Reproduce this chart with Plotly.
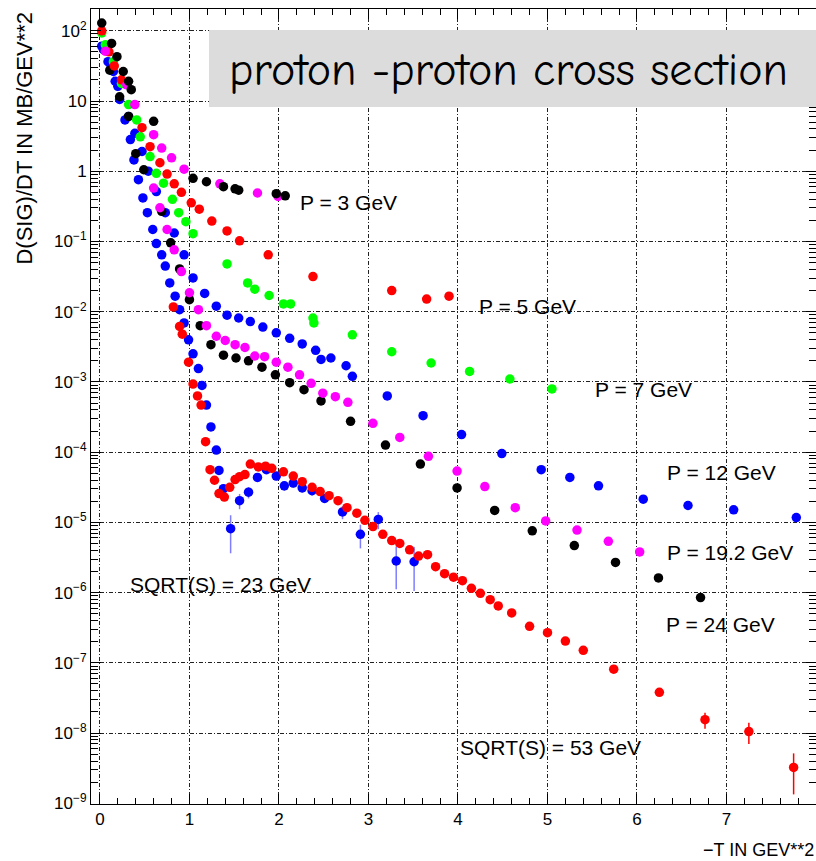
import plotly.graph_objects as go

# ---------------- data ----------------
# P = 3 GeV (black, upper)
t_p3 = [0.02, 0.13, 0.19, 0.26, 0.32, 0.35, 0.60, 1.04, 1.19, 1.38, 1.51, 1.55, 1.97, 2.07]
y_p3 = [129, 66, 42.7, 26.3, 19.1, 14.5, 5.13, 0.794, 0.708, 0.603, 0.562, 0.537, 0.479, 0.447]

# magenta, upper group (low momentum)
t_m_hi = [0.06, 0.30, 0.39, 0.60, 0.69, 0.80, 0.94, 1.34, 1.76, 1.99]
y_m_hi = [51.3, 17.0, 8.91, 3.31, 2.14, 1.55, 1.07, 0.661, 0.490, 0.437]

# P = 5 GeV (red)
t_p5 = [0.02, 0.10, 0.16, 0.24, 0.47, 0.56, 0.67, 0.75, 0.83, 0.91, 1.02, 1.11, 1.25, 1.42,
        1.56, 1.88, 2.38, 3.26, 3.65, 3.90]
y_p5 = [100, 50.1, 31.6, 20.0, 4.17, 2.24, 1.32, 0.912, 0.661, 0.501, 0.355, 0.288, 0.195, 0.141,
        0.102, 0.0646, 0.0316, 0.0200, 0.0151, 0.0166]

# P = 7 GeV (green)
t_p7 = [0.02, 0.06, 0.15, 0.24, 0.32, 0.41, 0.45, 0.56, 0.63, 0.71, 0.81, 0.88, 0.96, 1.04, 1.42,
        1.65, 1.73, 1.89, 2.05, 2.13, 2.38, 2.39, 2.82, 3.26, 3.70, 4.13, 4.58, 5.05]
y_p7 = [93.3, 63.1, 36.3, 17.8, 8.91, 5.37, 3.09, 1.62, 0.933, 0.676, 0.398, 0.257, 0.191, 0.129, 0.0479,
        0.0257, 0.0209, 0.0170, 0.0129, 0.0129, 8.13e-3, 6.92e-3, 4.68e-3, 2.69e-3, 1.86e-3, 1.41e-3,
        1.10e-3, 7.94e-4]

# P = 12 GeV (blue)
t_p12 = [0.04, 0.11, 0.15, 0.20, 0.32, 0.39, 0.47, 0.54, 0.63, 0.73, 0.83, 0.94, 1.04, 1.17, 1.30,
         1.42, 1.55, 1.68, 1.82, 1.97, 2.12, 2.26, 2.41, 2.47, 2.58, 2.75, 2.82, 3.21, 3.61, 4.04,
         4.49, 4.93, 5.25, 5.57, 6.07, 6.57, 7.08, 7.78]
y_p12 = [53.7, 34.7, 26.3, 16.2, 6.03, 3.47, 1.91, 1.00, 0.513, 0.257, 0.132, 0.0646, 0.0302, 0.0182,
         0.0120, 8.91e-3, 8.13e-3, 7.24e-3, 6.03e-3, 5.01e-3, 4.17e-3, 3.47e-3, 2.82e-3, 2.09e-3,
         2.19e-3, 1.70e-3, 1.20e-3, 6.31e-4, 3.31e-4, 1.78e-4, 9.55e-5, 5.62e-5, 4.37e-5, 3.31e-5,
         2.14e-5, 1.74e-5, 1.51e-5, 1.17e-5]

# P = 19.2 GeV (magenta)
t_p19 = [0.60, 0.67, 0.75, 0.83, 0.91, 1.00, 1.10, 1.19, 1.30, 1.40, 1.51, 1.62, 1.73, 1.84, 1.97,
         2.10, 2.23, 2.36, 2.49, 2.63, 2.77, 3.05, 3.35, 3.67, 3.99, 4.30, 4.64, 4.98, 5.33, 5.68, 6.03]
y_p19 = [0.575, 0.302, 0.148, 0.0759, 0.0372, 0.0186, 0.0107, 6.31e-3, 4.47e-3, 3.89e-3, 3.39e-3,
         3.09e-3, 2.34e-3, 2.29e-3, 1.91e-3, 1.62e-3, 1.26e-3, 9.55e-4, 6.92e-4, 6.17e-4, 5.13e-4,
         2.57e-4, 1.62e-4, 8.71e-5, 5.37e-5, 3.24e-5, 1.62e-5, 1.05e-5, 7.76e-6, 5.37e-6, 3.80e-6]

# P = 24 GeV (black, lower)
t_p24 = [0.11, 0.22, 0.32, 0.40, 0.49, 0.69, 0.79, 0.89, 1.00, 1.12, 1.24, 1.38, 1.52, 1.66, 1.81,
         1.96, 2.12, 2.28, 2.47, 2.80, 3.19, 3.58, 3.99, 4.41, 4.83, 5.30, 5.76, 6.24, 6.71]
y_p24 = [27.5, 11.5, 6.03, 1.78, 1.05, 0.269, 0.0955, 0.0407, 0.0148, 6.31e-3, 3.39e-3, 2.40e-3,
         2.19e-3, 2.00e-3, 1.62e-3, 1.26e-3, 9.77e-4, 7.76e-4, 5.37e-4, 2.75e-4, 1.26e-4, 6.76e-5,
         3.09e-5, 1.48e-5, 7.59e-6, 4.68e-6, 2.69e-6, 1.62e-6, 8.51e-7]

# SQRT(S) = 23 GeV (blue, ISR)
t_s23 = [0.02, 0.09, 0.17, 0.22, 0.28, 0.34, 0.38, 0.43, 0.48, 0.53, 0.59, 0.63, 0.69, 0.73, 0.78,
         0.84, 0.89, 0.94, 0.99, 1.04, 1.10, 1.14, 1.19, 1.24, 1.30, 1.33, 1.38, 1.46, 1.56, 1.66,
         1.76, 1.86, 1.97, 2.06, 2.16, 2.26, 2.37, 2.51, 2.71, 2.91, 3.11, 3.31, 3.51]
y_s23 = [60.3, 36.3, 19.1, 10.5, 5.37, 2.82, 1.45, 0.759, 0.417, 0.257, 0.148, 0.0933, 0.0646,
         0.0447, 0.0257, 0.0166, 0.0107, 6.92e-3, 3.98e-3, 2.51e-3, 1.55e-3, 8.91e-4, 4.68e-4,
         2.29e-4, 1.07e-4, 5.50e-5, 3.02e-5, 8.13e-6, 2.04e-5, 2.69e-5, 4.37e-5, 5.62e-5, 4.57e-5,
         3.31e-5, 3.63e-5, 3.09e-5, 2.82e-5, 2.19e-5, 1.41e-5, 6.76e-6, 1.10e-5, 2.82e-6, 2.75e-6]
e_s23 = [0, 0, 0, 0, 0, 0, 0, 0, 0, 0, 0, 0, 0, 0, 0,
         0, 0, 0, 0, 0, 0, 0, 0, 0, 0, 6e-6, 5e-6, 4.5e-6, 5e-6, 5e-6,
         4e-6, 3e-6, 6e-6, 5e-6, 5e-6, 4e-6, 4e-6, 3e-6, 3e-6, 2.5e-6, 3e-6, 1.7e-6, 1.7e-6]

# SQRT(S) = 53 GeV (red, ISR)
t_s53 = [0.82, 0.89, 0.92, 0.99, 1.04, 1.09, 1.13, 1.18, 1.23, 1.28, 1.33, 1.39, 1.45, 1.51, 1.56,
         1.62, 1.68, 1.77, 1.85, 1.92, 2.05, 2.16, 2.26, 2.37, 2.46, 2.56, 2.66, 2.76, 2.87, 2.96,
         3.05, 3.16, 3.26, 3.35, 3.46, 3.56, 3.66, 3.75, 3.85, 3.95, 4.05, 4.15, 4.25, 4.36, 4.45,
         4.60, 4.80, 5.00, 5.20, 5.40, 5.74, 6.25, 6.76, 7.25, 7.75]
y_s53 = [1.17e-2, 6.17e-3, 4.79e-3, 1.91e-3, 9.33e-4, 6.31e-4, 4.68e-4, 1.41e-4, 5.62e-5, 3.98e-5,
         2.57e-5, 2.29e-5, 3.16e-5, 4.07e-5, 4.47e-5, 4.79e-5, 6.76e-5, 6.17e-5, 6.31e-5, 5.89e-5,
         5.25e-5, 4.57e-5, 3.80e-5, 3.16e-5, 2.75e-5, 2.40e-5, 2.04e-5, 1.62e-5, 1.35e-5, 1.07e-5,
         8.71e-6, 6.76e-6, 5.50e-6, 5.01e-6, 4.07e-6, 3.31e-6, 3.47e-6, 2.34e-6, 1.86e-6, 1.66e-6,
         1.48e-6, 1.15e-6, 9.77e-7, 7.94e-7, 6.46e-7, 5.13e-7, 3.31e-7, 2.69e-7, 2.04e-7, 1.51e-7,
         8.13e-8, 3.80e-8, 1.55e-8, 1.05e-8, 3.24e-9]
e_s53 = [0] * 52 + [4e-9, 3.5e-9, 1.9e-9]

# axis tick labels
y_tick_vals = [1e2, 1e1, 1, 1e-1, 1e-2, 1e-3, 1e-4, 1e-5, 1e-6, 1e-7, 1e-8, 1e-9]
y_tick_text = ["10<sup>2</sup>", "10", "1", "10<sup>−1</sup>", "10<sup>−2</sup>", "10<sup>−3</sup>",
               "10<sup>−4</sup>", "10<sup>−5</sup>", "10<sup>−6</sup>", "10<sup>−7</sup>",
               "10<sup>−8</sup>", "10<sup>−9</sup>"]
x_tick_vals = [0, 1, 2, 3, 4, 5, 6, 7, 8]

# curve labels: (text, t position, log10 y position)
labels = [
    ("P = 3 GeV", 2.21, -0.45),
    ("P = 5 GeV", 4.21, -1.92),
    ("P = 7 GeV", 5.51, -3.11),
    ("P = 12 GeV", 6.31, -4.29),
    ("P = 19.2 GeV", 6.31, -5.43),
    ("P = 24 GeV", 6.30, -6.45),
    ("SQRT(S) = 23 GeV", 0.31, -5.89),
    ("SQRT(S) = 53 GeV", 4.00, -8.20),
]

# ---------------- figure ----------------
BLACK, RED, GREEN, BLUE, MAGENTA = "#000000", "#ff0000", "#00ff00", "#0000ff", "#ff00ff"
MS = 9.5

fig = go.Figure()

def add(t, y, color, name, err=None, ecolor=None):
    kw = {}
    if err is not None:
        kw["error_y"] = dict(type="data", array=err, visible=True, width=0,
                             thickness=1.5, color=ecolor or color)
    fig.add_trace(go.Scatter(x=t, y=y, mode="markers", name=name,
                             marker=dict(color=color, size=MS, line=dict(width=0)), **kw))

add(t_s23, y_s23, BLUE, "SQRT(S) = 23 GeV", e_s23, "rgba(40,40,255,0.6)")
add(t_s53, y_s53, RED, "SQRT(S) = 53 GeV", e_s53)
add(t_p12, y_p12, BLUE, "P = 12 GeV")
add(t_p24, y_p24, BLACK, "P = 24 GeV")
add(t_p19, y_p19, MAGENTA, "P = 19.2 GeV")
add(t_p7, y_p7, GREEN, "P = 7 GeV")
add(t_p5, y_p5, RED, "P = 5 GeV")
add(t_m_hi, y_m_hi, MAGENTA, "low P")
add(t_p3, y_p3, BLACK, "P = 3 GeV")

LABEL_FONT = dict(family="Liberation Sans, Arial, sans-serif", size=21, color="black")
for txt, tx, ly in labels:
    fig.add_annotation(x=tx, y=ly, xref="x", yref="y", text=txt, showarrow=False,
                       xanchor="left", yanchor="middle", font=LABEL_FONT)

# title box
fig.add_shape(type="rect", xref="paper", yref="paper", x0=0.1628, x1=1.05, y0=0.8767, y1=0.9736,
              fillcolor="#dcdcdc", line=dict(width=0), layer="above")
fig.add_annotation(x=0.1876, y=0.9225, xref="paper", yref="paper",
                   text="proton -proton cross section", showarrow=False,
                   xanchor="left", yanchor="middle",
                   font=dict(family="Comic Sans MS, Comic Neue, Lato, sans-serif", size=46, color="black"))

# axis titles
fig.add_annotation(x=-0.091, y=0.9987, xref="paper", yref="paper", text="D(SIG)/DT IN MB/GEV**2",
                   textangle=-90, showarrow=False, xanchor="center", yanchor="top",
                   font=dict(family="Liberation Sans, Arial, sans-serif", size=22, color="black"))
fig.add_annotation(x=1.0, y=-0.058, xref="paper", yref="paper", text="−T IN GEV**2",
                   showarrow=False, xanchor="right", yanchor="middle",
                   font=dict(family="Liberation Sans, Arial, sans-serif", size=18, color="black"))

y_minor = [m * 10.0 ** d for d in range(-9, 3) for m in range(2, 10)]

GRID = dict(showgrid=True, gridcolor="#222222", gridwidth=1, griddash="4px,2px,1px,2px")

fig.update_xaxes(range=[-0.1, 8.0], tickmode="array", tickvals=x_tick_vals,
                 ticks="inside", ticklen=10, tickwidth=1, tickcolor="black",
                 showline=True, linecolor="black", linewidth=1, mirror="ticks",
                 zeroline=False,
                 tickfont=dict(family="Liberation Sans, Arial, sans-serif", size=17, color="black"),
                 minor=dict(dtick=0.2, ticks="inside", ticklen=6, tickcolor="black", showgrid=False),
                 **GRID)
fig.update_yaxes(type="log", range=[-9.01, 2.31], tickmode="array", tickvals=y_tick_vals,
                 ticktext=y_tick_text, ticks="inside", ticklen=10, tickwidth=1, tickcolor="black",
                 showline=True, linecolor="black", linewidth=1, mirror="ticks",
                 tickfont=dict(family="Liberation Sans, Arial, sans-serif", size=17, color="black"),
                 minor=dict(tickmode="array", tickvals=y_minor, ticks="inside", ticklen=7,
                            tickcolor="black", showgrid=False),
                 **GRID)

fig.update_layout(width=816, height=861, margin=dict(l=91, r=0, t=9, b=57),
                  paper_bgcolor="white", plot_bgcolor="white", showlegend=False)

fig.write_html("out.html")
